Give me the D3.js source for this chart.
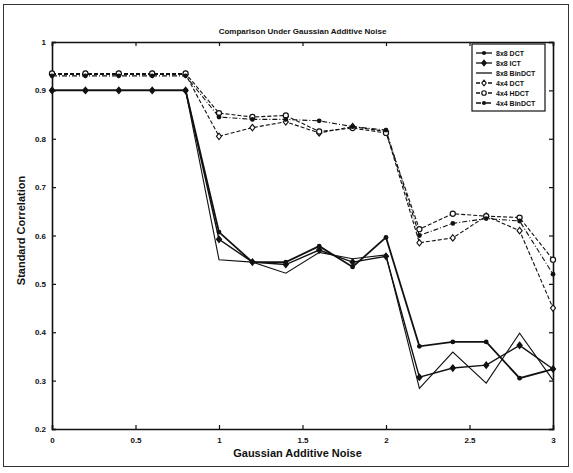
<!DOCTYPE html>
<html><head><meta charset="utf-8">
<script src="https://cdn.jsdelivr.net/npm/d3@7/dist/d3.min.js"></script>
<style>body{margin:0;background:#fff}svg{display:block}text{font-family:"Liberation Sans",Arial,sans-serif;fill:#111}</style>
</head><body><svg id="c" width="573" height="473"></svg>
<script>
const noise = [0,0.2,0.4,0.6,0.8,1.0,1.2,1.4,1.6,1.8,2.0,2.2,2.4,2.6,2.8,3.0];
const dct8 =    [0.90,0.90,0.90,0.90,0.90,0.607,0.545,0.545,0.578,0.535,0.596,0.371,0.380,0.380,0.305,0.324];
const ict8 =    [0.90,0.90,0.90,0.90,0.90,0.592,0.545,0.540,0.570,0.545,0.557,0.307,0.326,0.332,0.373,0.324];
const bindct8 = [0.90,0.90,0.90,0.90,0.90,0.550,0.545,0.522,0.565,0.552,0.560,0.284,0.359,0.295,0.398,0.301];
const dct4 =    [0.933,0.933,0.933,0.933,0.933,0.805,0.823,0.835,0.812,0.825,0.815,0.585,0.595,0.640,0.610,0.450];
const hdct4 =   [0.935,0.935,0.935,0.935,0.935,0.853,0.845,0.848,0.815,0.822,0.812,0.613,0.645,0.640,0.637,0.550];
const bindct4 = [0.930,0.930,0.930,0.930,0.930,0.845,0.840,0.840,0.837,0.825,0.818,0.600,0.625,0.635,0.630,0.520];
const names = ["8x8 DCT","8x8 ICT","8x8 BinDCT","4x4 DCT","4x4 HDCT","4x4 BinDCT"];
const xTicks = [0,0.5,1,1.5,2,2.5,3];
const yTicks = [0.2,0.3,0.4,0.5,0.6,0.7,0.8,0.9,1];
const title = "Comparison Under Gaussian Additive Noise";
const xLabel = "Gaussian Additive Noise";
const yLabel = "Standard Correlation";

const series = [
  {name:names[0], v:dct8, dash:null, marker:"dot", w:1.8},
  {name:names[1], v:ict8, dash:null, marker:"fdiamond", w:1.4},
  {name:names[2], v:bindct8, dash:null, marker:null, w:1.1},
  {name:names[3], v:dct4, dash:"4,2", marker:"diamond", w:1.1},
  {name:names[4], v:hdct4, dash:"4,2", marker:"circle", w:1.1},
  {name:names[5], v:bindct4, dash:"5,2,1,2", marker:"dot", w:1.1}
];

const svg = d3.select("#c");
const L=52, R=553, T=42, B=429;
const x = d3.scaleLinear().domain([0,3]).range([L,R]);
const y = d3.scaleLinear().domain([0.2,1]).range([B,T]);

svg.append("rect").attr("x",3.5).attr("y",4.5).attr("width",565).attr("height",462)
  .attr("fill","none").attr("stroke","#333").attr("stroke-width",1);

const gx = svg.append("g").attr("transform",`translate(0,${B})`)
  .call(d3.axisBottom(x).tickValues(xTicks).tickSize(-4).tickPadding(8).tickFormat(d3.format("")));
const gxt = svg.append("g").attr("transform",`translate(0,${T})`)
  .call(d3.axisTop(x).tickValues(xTicks).tickSize(-4).tickFormat(""));
const gy = svg.append("g").attr("transform",`translate(${L},0)`)
  .call(d3.axisLeft(y).tickValues(yTicks).tickSize(-4).tickPadding(6).tickFormat(d3.format("")));
const gyr = svg.append("g").attr("transform",`translate(${R},0)`)
  .call(d3.axisRight(y).tickValues(yTicks).tickSize(-4).tickFormat(""));
[gx,gxt,gy,gyr].forEach(g=>{
  g.selectAll("path").attr("stroke","#111").attr("stroke-width",1.6);
  g.selectAll("line").attr("stroke","#111").attr("stroke-width",1.2);
  g.selectAll("text").attr("font-size",8).attr("font-weight","bold").attr("fill","#222");
});

const line = d3.line().x((d,i)=>x(noise[i])).y(d=>y(d));

function marker(g, type, cx, cy, s){
  if(type==="dot") g.append("circle").attr("cx",cx).attr("cy",cy).attr("r",s*0.75).attr("fill","#111");
  else if(type==="circle") g.append("circle").attr("cx",cx).attr("cy",cy).attr("r",s*0.8).attr("fill","#fff").attr("stroke","#111").attr("stroke-width",1.2);
  else if(type==="diamond"||type==="fdiamond") g.append("path").attr("d",`M${cx},${cy-s}L${cx+s*0.8},${cy}L${cx},${cy+s}L${cx-s*0.8},${cy}Z`)
    .attr("fill",type==="fdiamond"?"#111":"#fff").attr("stroke","#111").attr("stroke-width",1.1);
}

const plot = svg.append("g");
series.forEach(s=>{
  plot.append("path").datum(s.v).attr("d",line).attr("fill","none")
    .attr("stroke","#111").attr("stroke-width",s.w).attr("stroke-dasharray",s.dash);
});
series.forEach(s=>{
  if(!s.marker) return;
  s.v.forEach((d,i)=>marker(plot,s.marker,x(noise[i]),y(d),3.2));
});

const lg = svg.append("g");
const lx=472, ly=44, lw=73, lh=67;
lg.append("rect").attr("x",lx).attr("y",ly).attr("width",lw).attr("height",lh)
  .attr("fill","#fff").attr("stroke","#111").attr("stroke-width",1.2);
series.forEach((s,i)=>{
  const yy = ly+9+i*10;
  lg.append("line").attr("x1",lx+4).attr("x2",lx+20).attr("y1",yy).attr("y2",yy)
    .attr("stroke","#111").attr("stroke-width",1.3).attr("stroke-dasharray",s.dash);
  if(s.marker) marker(lg,s.marker,lx+12,yy,2.8);
  lg.append("text").attr("x",lx+24).attr("y",yy+2.5).attr("font-size",7).attr("font-weight","bold").text(s.name);
});

svg.append("text").attr("x",(L+R)/2).attr("y",34).attr("text-anchor","middle")
  .attr("font-size",8).attr("font-weight","bold").text(title);
svg.append("text").attr("x",(L+R)/2-5).attr("y",457).attr("text-anchor","middle")
  .attr("font-size",11).attr("font-weight","bold").text(xLabel);
svg.append("text").attr("transform",`translate(25,${(T+B)/2-5}) rotate(-90)`).attr("text-anchor","middle")
  .attr("font-size",11).attr("font-weight","bold").text(yLabel);
</script></body></html>
